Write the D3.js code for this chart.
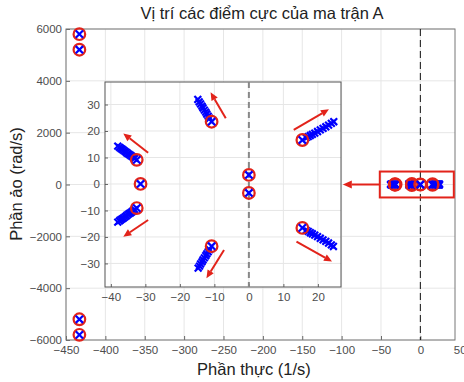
<!DOCTYPE html>
<html>
<head>
<meta charset="utf-8">
<script src="https://cdn.jsdelivr.net/npm/d3@7"></script>
<style>
  body { margin: 0; background: #fff; }
  svg text { font-family: "Liberation Sans", Arial, sans-serif; }
</style>
</head>
<body>
<div id="chart"></div>
<script>
// ---- data ----
const mainXTicks = [-450, -400, -350, -300, -250, -200, -150, -100, -50, 0, 50];
const mainYTicks = [-6000, -4000, -2000, 0, 2000, 4000, 6000];
const insetXTicks = [-40, -30, -20, -10, 0, 10, 20];
const insetYTicks = [-30, -20, -10, 0, 10, 20, 30];

// far poles (real, imag)
const farPoleRe = [-433, -433, -433, -433];
const farPoleIm = [5800, 5200, -5200, -5800];

// poles near the origin
const nearPoleRe = [-31.4, -32.5, -32.5, -10.8, -10.8, 15.5, 15.5, 0, 0];
const nearPoleIm = [0, 9.1, -9.1, 23.5, -23.5, 16.6, -16.6, 3.4, -3.4];

// pole trails (blue x markers), one list per branch
const trailUL = [[-33.1,9.7],[-33.5,10.1],[-33.9,10.4],[-34.3,10.8],[-34.7,11.2],[-35.1,11.5],[-35.5,11.9],[-35.9,12.3],[-36.3,12.7],[-36.7,13.1],[-37.1,13.4],[-37.5,13.8],[-38.0,14.3]];
const trailLL = [[-33.1,-9.7],[-33.5,-10.1],[-33.9,-10.5],[-34.3,-10.9],[-34.7,-11.2],[-35.1,-11.6],[-35.5,-12.0],[-35.9,-12.4],[-36.3,-12.8],[-36.7,-13.2],[-37.1,-13.5],[-37.5,-13.9],[-38.0,-14.4]];
const trailUM = [[-11.4,24.8],[-11.8,25.6],[-12.2,26.4],[-12.5,27.1],[-12.9,27.9],[-13.3,28.7],[-13.6,29.4],[-14.0,30.2],[-14.4,31.0],[-14.8,31.9]];
const trailLM = [[-11.4,-24.8],[-11.8,-25.6],[-12.2,-26.4],[-12.5,-27.1],[-12.9,-27.9],[-13.3,-28.7],[-13.6,-29.4],[-14.0,-30.2],[-14.3,-31.0],[-14.7,-31.8]];
const trailUR = [[16.6,17.5],[17.2,17.9],[17.8,18.3],[18.4,18.7],[19.1,19.2],[19.9,19.8],[20.7,20.4],[21.5,21.0],[22.3,21.6],[23.1,22.2],[23.9,22.9],[24.6,23.5]];
const trailLR = [[16.6,-17.5],[17.2,-17.9],[17.8,-18.4],[18.4,-18.8],[19.1,-19.3],[19.9,-19.9],[20.7,-20.5],[21.5,-21.1],[22.3,-21.7],[23.1,-22.3],[23.9,-23.0],[24.5,-23.6]];
const trails = [trailUL, trailLL, trailUM, trailLM, trailUR, trailLR];

// red arrows in the inset: [fromRe, fromIm, toRe, toIm]
const insetArrows = [
  [-29.2, 11.8, -36.4, 19.1],
  [-29.2, -13.6, -36.4, -19.9],
  [-6.7, 24.8, -11.1, 34.6],
  [-7.2, -24.9, -12.3, -35.6],
  [13.0, 20.4, 23.2, 28.2],
  [13.8, -21.8, 24.1, -29.3]
];

// highlight box around the cluster and pointer arrow (main-axis units)
const boxRe = [-51.5, 42.5];
const boxIm = [-500, 500];
const pointerRe = [-51.5, -98.5];

// ---- drawing ----
const W = 464, H = 382;
const red = "#e2231a", blue = "#0000ff";
const svg = d3.select("#chart").append("svg").attr("width", W).attr("height", H);

const x = d3.scaleLinear().domain([-450, 44]).range([66, 455]);
const y = d3.scaleLinear().domain([-6000, 6000]).range([340, 29]);

const xi = d3.scaleLinear().domain([-41.7, 26.7]).range([105, 341]);
const yi = d3.scaleLinear().domain([-38.9, 38.5]).range([287, 82]);

function cross(g, cx, cy, s, w) {
  g.append("path")
    .attr("d", `M${cx - s},${cy - s}L${cx + s},${cy + s}M${cx - s},${cy + s}L${cx + s},${cy - s}`)
    .attr("stroke", blue).attr("stroke-width", w).attr("fill", "none");
}
function pole(g, cx, cy) {
  g.append("circle").attr("cx", cx).attr("cy", cy).attr("r", 5.8)
    .attr("fill", "none").attr("stroke", red).attr("stroke-width", 2.2);
  cross(g, cx, cy, 3.6, 2.2);
}
function arrow(g, x1, y1, x2, y2, w, head) {
  const a = Math.atan2(y2 - y1, x2 - x1);
  const bx = x2 - head * Math.cos(a), by = y2 - head * Math.sin(a);
  g.append("line").attr("x1", x1).attr("y1", y1).attr("x2", bx).attr("y2", by)
    .attr("stroke", red).attr("stroke-width", w);
  const hw = head * 0.45;
  g.append("path")
    .attr("d", `M${x2},${y2}L${bx - hw * Math.sin(a)},${by + hw * Math.cos(a)}L${bx + hw * Math.sin(a)},${by - hw * Math.cos(a)}Z`)
    .attr("fill", red);
}

// main grid
const main = svg.append("g");
main.selectAll(".gx").data(mainXTicks.filter(d => d <= 44)).enter().append("line")
  .attr("x1", d => x(d)).attr("x2", d => x(d)).attr("y1", y(-6000)).attr("y2", y(6000))
  .attr("stroke", "#e6e6e6");
main.selectAll(".gy").data(mainYTicks).enter().append("line")
  .attr("x1", x(-450)).attr("x2", x(44)).attr("y1", d => y(d)).attr("y2", d => y(d))
  .attr("stroke", "#e6e6e6");

// main axes
const axX = main.append("g").attr("transform", `translate(0,${y(-6000)})`)
  .call(d3.axisBottom(x).tickValues(mainXTicks).tickSize(-4).tickPadding(6).tickFormat(d3.format("d")));
const axY = main.append("g").attr("transform", `translate(${x(-450)},0)`)
  .call(d3.axisLeft(y).tickValues(mainYTicks).tickSize(-4).tickPadding(4).tickFormat(d3.format("d")));
[axX, axY].forEach(a => {
  a.select(".domain").remove();
  a.selectAll("line").attr("stroke", "#666");
  a.selectAll("text").attr("fill", "#4d4d4d").attr("font-size", 11.5);
});
axX.selectAll(".tick").filter(d => d > 44).select("line").remove();
main.append("rect").attr("x", x(-450)).attr("y", y(6000))
  .attr("width", x(44) - x(-450)).attr("height", y(-6000) - y(6000))
  .attr("fill", "none").attr("stroke", "#777").attr("stroke-width", 1);

// dashed imaginary axis
main.append("line").attr("x1", x(0)).attr("x2", x(0)).attr("y1", y(6000)).attr("y2", y(-6000))
  .attr("stroke", "#111").attr("stroke-dasharray", "7,4").attr("stroke-width", 1);

// far poles
farPoleRe.forEach((r, i) => pole(main, x(r), y(farPoleIm[i])));

// near poles seen on the main scale
trails.forEach(t => t.forEach(p => cross(main, x(p[0]), y(p[1]), 3.2, 2)));
nearPoleRe.forEach((r, i) => pole(main, x(r), y(nearPoleIm[i])));

// box and pointer
main.append("rect").attr("x", x(boxRe[0])).attr("y", y(boxIm[1]))
  .attr("width", x(boxRe[1]) - x(boxRe[0])).attr("height", y(boxIm[0]) - y(boxIm[1]))
  .attr("fill", "none").attr("stroke", red).attr("stroke-width", 2);
arrow(main, x(pointerRe[0]), y(0), x(pointerRe[1]), y(0), 2, 9);

// inset
const ins = svg.append("g");
ins.append("rect").attr("x", xi(-41.7)).attr("y", yi(38.5))
  .attr("width", xi(26.7) - xi(-41.7)).attr("height", yi(-38.9) - yi(38.5)).attr("fill", "#fff");
ins.selectAll(".gx").data(insetXTicks).enter().append("line")
  .attr("x1", d => xi(d)).attr("x2", d => xi(d)).attr("y1", yi(-38.9)).attr("y2", yi(38.5))
  .attr("stroke", "#e6e6e6");
ins.selectAll(".gy").data(insetYTicks).enter().append("line")
  .attr("x1", xi(-41.7)).attr("x2", xi(26.7)).attr("y1", d => yi(d)).attr("y2", d => yi(d))
  .attr("stroke", "#e6e6e6");
const iaX = ins.append("g").attr("transform", `translate(0,${yi(-38.9)})`)
  .call(d3.axisBottom(xi).tickValues(insetXTicks).tickSize(-3).tickPadding(6));
const iaY = ins.append("g").attr("transform", `translate(${xi(-41.7)},0)`)
  .call(d3.axisLeft(yi).tickValues(insetYTicks).tickSize(-3).tickPadding(5));
[iaX, iaY].forEach(a => {
  a.select(".domain").remove();
  a.selectAll("line").attr("stroke", "#666");
  a.selectAll("text").attr("fill", "#4d4d4d").attr("font-size", 11.5);
});
ins.append("rect").attr("x", xi(-41.7)).attr("y", yi(38.5))
  .attr("width", xi(26.7) - xi(-41.7)).attr("height", yi(-38.9) - yi(38.5))
  .attr("fill", "none").attr("stroke", "#555").attr("stroke-width", 1);
ins.append("line").attr("x1", xi(0)).attr("x2", xi(0)).attr("y1", yi(38.5)).attr("y2", yi(-38.9))
  .attr("stroke", "#888").attr("stroke-dasharray", "6,4").attr("stroke-width", 2);

trails.forEach(t => t.forEach(p => cross(ins, xi(p[0]), yi(p[1]), 3.4, 2.2)));
nearPoleRe.forEach((r, i) => pole(ins, xi(r), yi(nearPoleIm[i])));
insetArrows.forEach(a => arrow(ins, xi(a[0]), yi(a[1]), xi(a[2]), yi(a[3]), 2, 8));

// titles
svg.append("text").attr("x", 262).attr("y", 19).attr("text-anchor", "middle")
  .attr("font-size", 16.5).attr("fill", "#222").text("Vị trí các điểm cực của ma trận A");
svg.append("text").attr("x", 254).attr("y", 375).attr("text-anchor", "middle")
  .attr("font-size", 16.5).attr("fill", "#222").text("Phần thực (1/s)");
svg.append("text").attr("transform", "translate(22,184) rotate(-90)").attr("text-anchor", "middle")
  .attr("font-size", 16.5).attr("fill", "#222").text("Phần ảo (rad/s)");
</script>
</body>
</html>
